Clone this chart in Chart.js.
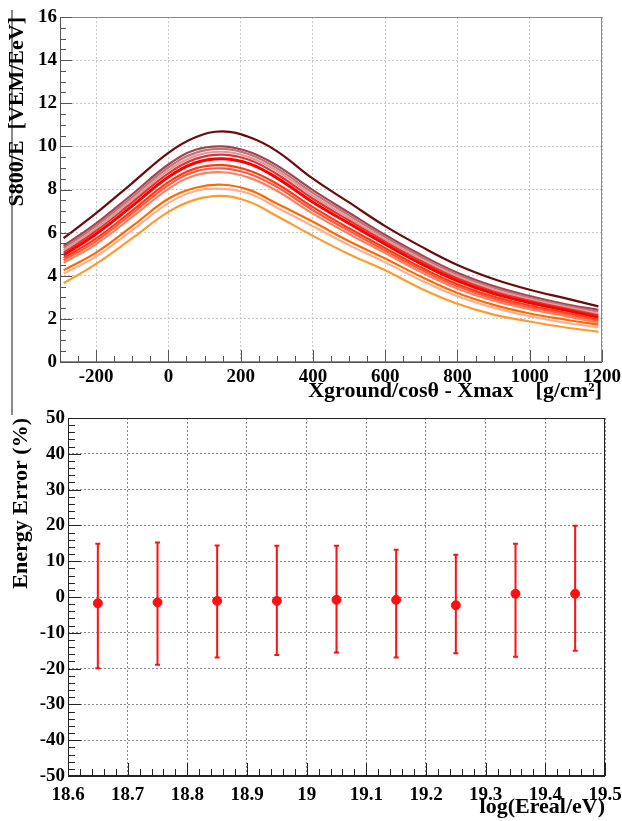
<!DOCTYPE html>
<html>
<head>
<meta charset="utf-8">
<script src="https://cdn.jsdelivr.net/npm/chart.js@4.4.0/dist/chart.umd.min.js"></script>
<style>
    body { margin: 0; background: #fff; width: 622px; height: 821px; position: relative; overflow: hidden; }
    #top_wrap { position: absolute; left: 0; top: 0; width: 622px; height: 405px; }
    #bot_wrap { position: absolute; left: 0; top: 405px; width: 622px; height: 416px; }
    #edge { position: absolute; left: 11px; top: 10px; height: 405px; border-left: 2px solid #8a8a8a; }
</style>
</head>
<body>
<div id="edge"></div>
<div id="top_wrap"><canvas id="s800_chart" width="622" height="405"></canvas></div>
<div id="bot_wrap"><canvas id="err_chart" width="622" height="416"></canvas></div>
<script>
// top panel: S800/E vs Xground/cos(theta) - Xmax
const xGround = [-290, -200, -100, 0, 75, 150, 225, 300, 400, 500, 600, 700, 800, 900, 1000, 1100, 1190];
const curve01 = [5.74, 6.9, 8.3, 9.7, 10.42, 10.7, 10.42, 9.78, 8.5, 7.4, 6.3, 5.35, 4.5, 3.85, 3.35, 2.95, 2.58];
const curve02 = [5.38, 6.43, 7.78, 9.16, 9.84, 10.0, 9.74, 9.12, 7.97, 6.92, 5.89, 4.96, 4.14, 3.52, 3.06, 2.68, 2.42];
const curve03 = [5.28, 6.31, 7.65, 9.02, 9.7, 9.88, 9.62, 8.99, 7.84, 6.8, 5.79, 4.86, 4.05, 3.44, 2.98, 2.61, 2.34];
const curve04 = [5.18, 6.2, 7.53, 8.89, 9.56, 9.75, 9.49, 8.87, 7.71, 6.68, 5.69, 4.77, 3.96, 3.36, 2.91, 2.55, 2.23];
const curve05 = [5.07, 6.08, 7.4, 8.75, 9.42, 9.62, 9.37, 8.72, 7.57, 6.56, 5.58, 4.67, 3.87, 3.27, 2.84, 2.48, 2.17];
const curve06 = [4.95, 5.94, 7.24, 8.58, 9.24, 9.43, 9.19, 8.54, 7.41, 6.42, 5.46, 4.55, 3.76, 3.17, 2.75, 2.4, 2.07];
const curve07 = [4.83, 5.73, 7.02, 8.34, 8.98, 9.13, 8.87, 8.27, 7.18, 6.2, 5.28, 4.38, 3.6, 3.03, 2.62, 2.28, 1.97];
const curve08 = [4.72, 5.61, 6.89, 8.2, 8.84, 8.98, 8.72, 8.12, 7.04, 6.08, 5.17, 4.28, 3.51, 2.94, 2.54, 2.21, 1.9];
const curve09 = [4.6, 5.47, 6.73, 8.03, 8.66, 8.8, 8.54, 7.94, 6.88, 5.94, 5.05, 4.16, 3.4, 2.84, 2.45, 2.13, 1.82];
const curve10 = [4.26, 5.07, 6.3, 7.57, 8.08, 8.22, 7.97, 7.35, 6.5, 5.6, 4.8, 3.95, 3.2, 2.65, 2.25, 1.96, 1.73];
const curve11 = [4.1, 4.9, 6.12, 7.37, 7.93, 8.03, 7.8, 7.17, 6.3, 5.42, 4.62, 3.78, 3.05, 2.52, 2.12, 1.82, 1.61];
const curve12 = [3.65, 4.55, 5.74, 6.96, 7.53, 7.7, 7.42, 6.77, 5.85, 5.0, 4.25, 3.4, 2.7, 2.2, 1.88, 1.6, 1.4];
const topXTicks = [-200, 0, 200, 400, 600, 800, 1000, 1200];
const topYTicks = [0, 2, 4, 6, 8, 10, 12, 14, 16];

// bottom panel: energy error vs log(Ereal/eV)
const logE = [18.65, 18.75, 18.85, 18.95, 19.05, 19.15, 19.25, 19.35, 19.45];
const errMean = [-1.75, -1.5, -1.1, -1.1, -0.8, -0.8, -2.3, 0.9, 0.9];
const errHigh = [14.9, 15.2, 14.4, 14.3, 14.3, 13.2, 11.8, 14.9, 19.9];
const errLow = [-19.9, -18.9, -16.9, -16.2, -15.5, -16.9, -15.7, -16.7, -15.0];
const botXTicks = [18.6, 18.7, 18.8, 18.9, 19.0, 19.1, 19.2, 19.3, 19.4, 19.5];
const botYTicks = [-50, -40, -30, -20, -10, 0, 10, 20, 30, 40, 50];

const curveColors = ['#6b0a0a', '#9e4650', '#c27378', '#e09a9a', '#e23434', '#ff0000',
                     '#ff3a12', '#ff5a40', '#ff8060', '#ff6a00', '#ffae90', '#ff9a30'];

const tickFont = { family: 'Liberation Serif', size: 19, weight: 'bold' };
const titleFont = { family: 'Liberation Serif', size: 22, weight: 'bold' };

// ROOT style frame with inward major/minor ticks
const rootFrame = {
    id: 'rootFrame',
    afterDraw(chart, args, opts) {
        const { ctx, chartArea: a, scales: { x, y } } = chart;
        ctx.save();
        ctx.lineWidth = 1;
        ctx.strokeStyle = opts.boxColor;
        ctx.strokeRect(a.left + 0.5, a.top + 0.5, a.right - a.left - 1, a.bottom - a.top - 1);
        ctx.strokeStyle = opts.axisColor;
        ctx.beginPath();
        ctx.moveTo(a.left + 0.5, a.top);
        ctx.lineTo(a.left + 0.5, a.bottom + 0.5);
        ctx.lineTo(a.right, a.bottom + 0.5);
        const nY = Math.round((y.max - y.min) / opts.yMinor);
        for (let i = 0; i <= nY; i++) {
            const v = y.min + i * opts.yMinor;
            const major = Math.abs(v / opts.yMajor - Math.round(v / opts.yMajor)) < 1e-6;
            const py = Math.round(y.getPixelForValue(v)) + 0.5;
            ctx.moveTo(a.left, py);
            ctx.lineTo(a.left + (major ? opts.majorLen : opts.minorLen), py);
        }
        const nX = Math.round((x.max - x.min) / opts.xMinor);
        for (let i = 0; i <= nX; i++) {
            const v = x.min + i * opts.xMinor;
            const major = Math.abs(v / opts.xMajor - Math.round(v / opts.xMajor)) < 1e-6;
            const px = Math.round(x.getPixelForValue(v)) + 0.5;
            ctx.moveTo(px, a.bottom);
            ctx.lineTo(px, a.bottom - (major ? opts.majorLen : opts.minorLen));
        }
        ctx.stroke();
        ctx.restore();
    }
};

// vertical error bars with small caps, drawn under the markers
const errorBars = {
    id: 'errorBars',
    beforeDatasetsDraw(chart) {
        const { ctx, scales: { x, y } } = chart;
        ctx.save();
        ctx.strokeStyle = '#ff1010';
        ctx.lineWidth = 2;
        ctx.beginPath();
        for (let i = 0; i < logE.length; i++) {
            const px = x.getPixelForValue(logE[i]);
            const pTop = y.getPixelForValue(errHigh[i]);
            const pBot = y.getPixelForValue(errLow[i]);
            ctx.moveTo(px, pTop);
            ctx.lineTo(px, pBot);
            ctx.moveTo(px - 2.5, pTop);
            ctx.lineTo(px + 2.5, pTop);
            ctx.moveTo(px - 2.5, pBot);
            ctx.lineTo(px + 2.5, pBot);
        }
        ctx.stroke();
        ctx.restore();
    }
};

function toPoints(xs, ys) {
    return xs.map((v, i) => ({ x: v, y: ys[i] }));
}

// fixed axis sizes so the plot frame lands where it should
function fixX(height) {
    return (scale) => { scale.height = height; scale.paddingLeft = 0; scale.paddingRight = 0; };
}
function fixY(width) {
    return (scale) => { scale.width = width; scale.paddingTop = 0; scale.paddingBottom = 0; };
}

function paintS800Chart() {
    const ctx = document.getElementById('s800_chart').getContext('2d');
    const curves = [curve01, curve02, curve03, curve04, curve05, curve06,
                    curve07, curve08, curve09, curve10, curve11, curve12];
    const datasets = curves.map((c, i) => ({
        data: toPoints(xGround, c),
        borderColor: curveColors[i],
        borderWidth: i === 5 ? 3 : 2.2,
        pointRadius: 0,
        tension: 0.4,
        fill: false
    }));
    new Chart(ctx, {
        type: 'line',
        data: { datasets: datasets.reverse() },
        plugins: [rootFrame],
        options: {
            responsive: false,
            animation: false,
            layout: { autoPadding: false, padding: { top: 17, right: 20, left: 0, bottom: 0 } },
            plugins: {
                legend: { display: false },
                tooltip: { enabled: false },
                rootFrame: { boxColor: '#8a8a8a', axisColor: '#555', yMajor: 2, yMinor: 0.5, xMajor: 200, xMinor: 50, majorLen: 12, minorLen: 6 }
            },
            scales: {
                x: {
                    type: 'linear',
                    min: -300,
                    max: 1200,
                    afterBuildTicks: (scale) => { scale.ticks = topXTicks.map(v => ({ value: v })); },
                    afterFit: fixX(43),
                    grid: { color: '#c8c8c8', lineWidth: 1, drawTicks: false },
                    border: { display: false, dash: [2, 2] },
                    ticks: { color: '#000', font: tickFont, padding: 4, maxRotation: 0, callback: v => String(v) },
                    title: { display: true, text: 'Xground/cosθ - Xmax    [g/cm²]', align: 'end', color: '#000', font: titleFont, padding: { top: 0, bottom: 0 } }
                },
                y: {
                    min: 0,
                    max: 16,
                    afterBuildTicks: (scale) => { scale.ticks = topYTicks.map(v => ({ value: v })); },
                    afterFit: fixY(60),
                    grid: { color: '#c8c8c8', lineWidth: 1, drawTicks: false },
                    border: { display: false, dash: [2, 2] },
                    ticks: { color: '#000', font: tickFont, padding: 3, callback: v => String(v) },
                    title: { display: true, text: 'S800/E  [VEM/EeV]', align: 'end', color: '#000', font: titleFont, padding: { top: 4, bottom: 0 } }
                }
            }
        }
    });
}

function paintErrorChart() {
    const ctx = document.getElementById('err_chart').getContext('2d');
    new Chart(ctx, {
        type: 'scatter',
        data: {
            datasets: [{
                data: toPoints(logE, errMean),
                backgroundColor: '#ff1010',
                borderColor: '#ff1010',
                pointRadius: 4.5,
                pointStyle: 'circle'
            }]
        },
        plugins: [errorBars, rootFrame],
        options: {
            responsive: false,
            animation: false,
            layout: { autoPadding: false, padding: { top: 13, right: 17, left: 0, bottom: 0 } },
            plugins: {
                legend: { display: false },
                tooltip: { enabled: false },
                rootFrame: { boxColor: '#222', axisColor: '#222', yMajor: 10, yMinor: 2, xMajor: 0.1, xMinor: 0.02, majorLen: 13, minorLen: 7 }
            },
            scales: {
                x: {
                    type: 'linear',
                    min: 18.6,
                    max: 19.5,
                    afterBuildTicks: (scale) => { scale.ticks = botXTicks.map(v => ({ value: v })); },
                    afterFit: fixX(45),
                    grid: { color: '#8a8a8a', lineWidth: 1, drawTicks: false },
                    border: { display: false, dash: [2, 2] },
                    ticks: { color: '#000', font: tickFont, padding: 8, maxRotation: 0, callback: v => String(+v.toFixed(1)) },
                    title: { display: true, text: 'log(Ereal/eV)', align: 'end', color: '#000', font: titleFont, padding: { top: 0, bottom: 0 } }
                },
                y: {
                    min: -50,
                    max: 50,
                    afterBuildTicks: (scale) => { scale.ticks = botYTicks.map(v => ({ value: v })); },
                    afterFit: fixY(68),
                    grid: { color: '#8a8a8a', lineWidth: 1, drawTicks: false },
                    border: { display: false, dash: [2, 2] },
                    ticks: { color: '#000', font: tickFont, padding: 3, callback: v => String(v) },
                    title: { display: true, text: 'Energy Error (%)', align: 'end', color: '#000', font: titleFont, padding: { top: 8, bottom: 0 } }
                }
            }
        }
    });
}

paintS800Chart();
paintErrorChart();
</script>
</body>
</html>
